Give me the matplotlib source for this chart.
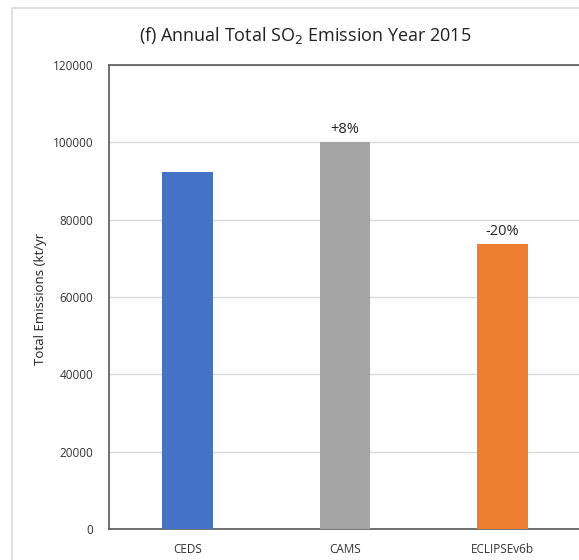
import matplotlib
matplotlib.use("Agg")
import matplotlib.pyplot as plt
from matplotlib.patches import Rectangle

categories = ["CEDS", "CAMS", "ECLIPSEv6b"]
values = [92300, 100000, 73700]
labels = ["", "+8%", "-20%"]
colors = ["#4472C4", "#A5A5A5", "#ED7D31"]
yticks = [0, 20000, 40000, 60000, 80000, 100000, 120000]

plt.rcParams['font.family'] = ['Open Sans', 'DejaVu Sans']

fig = plt.figure(figsize=(5.79, 5.6), dpi=100)
W, H = 579, 560
# outer chart frame
fig.patches.append(Rectangle((12 / W, -0.1), 1.2, (H - 8) / H + 0.1, transform=fig.transFigure,
                             fill=False, edgecolor="#D9D9D9", linewidth=1.2))

AX_L, AX_W = 108.75, 472.5
ax = fig.add_axes([AX_L / W, 1 - 529 / H, AX_W / W, 464 / H])
x = list(range(len(categories)))
ax.bar(x, values, width=0.32, color=colors, zorder=3)
for xi, v, lab in zip(x, values, labels):
    if lab:
        ax.text(xi, v + 1400, lab, ha="center", va="bottom", fontsize=10.5, color="#222222")

ax.set_xlim(-0.5, 2.5)
ax.set_ylim(0, 120000)
ax.set_yticks(yticks)
ax.set_yticklabels([str(t) for t in yticks], fontsize=8.5, color="#333333")
ax.set_xticks(x)
ax.set_xticklabels(categories, fontsize=8.5, color="#333333")
ax.tick_params(axis="both", length=0)
ax.tick_params(axis="y", pad=11)
ax.tick_params(axis="x", pad=10)
ax.yaxis.grid(True, color="#D9D9D9", linewidth=1, zorder=0)
ax.set_axisbelow(True)
for s in ["left", "bottom", "top"]:
    ax.spines[s].set_color("#595959")
    ax.spines[s].set_linewidth(1.2)
ax.spines["right"].set_visible(False)

ax.set_ylabel("Total Emissions (kt/yr", fontsize=9.5, color="#222222")
ax.yaxis.set_label_coords((47 - AX_L) / AX_W, 0.497)

fig.text(305 / W, 1 - 35 / H, "(f) Annual Total SO$_2$ Emission Year 2015", ha="center", va="center",
         fontsize=13, color="#222222")

fig.savefig("out.png", dpi=100)
